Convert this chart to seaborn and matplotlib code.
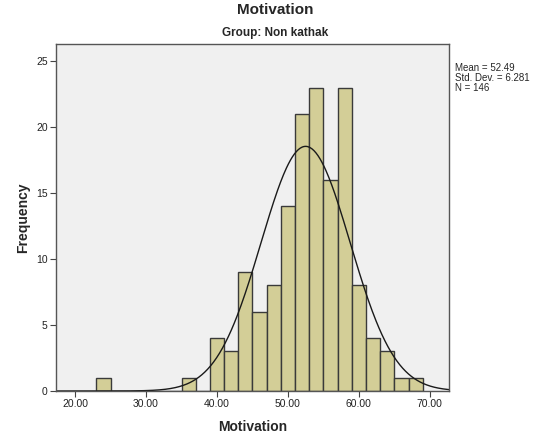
import numpy as np
import pandas as pd
import matplotlib
matplotlib.use("Agg")
import matplotlib.pyplot as plt
import seaborn as sns

# Data
bin_left = [23, 25, 27, 29, 31, 33, 35, 37, 39, 41, 43, 45, 47, 49, 51, 53, 55, 57, 59, 61, 63, 65, 67]
counts   = [1, 0, 0, 0, 0, 0, 1, 0, 4, 3, 9, 6, 8, 14, 21, 23, 16, 23, 8, 4, 3, 1, 1]
bin_width = 2
mean_val = 52.49
sd_val = 6.281
n_val = 146
x_ticks = [20, 30, 40, 50, 60, 70]
y_ticks = [0, 5, 10, 15, 20, 25]

sns.set_style("white")
plt.rcParams['font.family'] = ['Arial', 'Liberation Sans', 'DejaVu Sans']

df = pd.DataFrame({"center": np.array(bin_left) + bin_width / 2, "count": counts})
edges = list(bin_left) + [bin_left[-1] + bin_width]

fig = plt.figure(figsize=(5.5, 4.41), dpi=100)
ax = fig.add_axes([0.1018, 0.1134, 0.7145, 0.7866])
ax.set_facecolor("#F0F0F0")

sns.histplot(data=df, x="center", weights="count", bins=edges, ax=ax,
             color="#D3CE97", alpha=1, edgecolor="#3a3a3a", linewidth=1.0)

xs = np.linspace(17.3, 72.7, 400)
ys = n_val * bin_width * np.exp(-0.5 * ((xs - mean_val) / sd_val) ** 2) / (sd_val * np.sqrt(2 * np.pi))
sns.lineplot(x=xs, y=ys, ax=ax, color="#1a1a1a", linewidth=1.0)

ax.set_xlim(17.3, 72.7)
ax.set_ylim(0, 26.3)
ax.set_xticks(x_ticks)
ax.set_xticklabels([f"{t:.2f}" for t in x_ticks], fontsize=7.5, color="#222222")
ax.set_yticks(y_ticks)
ax.set_yticklabels([str(t) for t in y_ticks], fontsize=7.5, color="#222222")
ax.tick_params(axis="both", direction="out", length=4, width=0.8, color="#444444", pad=2,
               bottom=True, left=True)
for s in ax.spines.values():
    s.set_color("#555555")
    s.set_linewidth(1.0)

ax.set_xlabel("Motivation", fontsize=10, fontweight="bold", labelpad=8)
ax.set_ylabel("Frequency", fontsize=10, fontweight="bold", labelpad=4)

fig.text(0.5, 0.977, "Motivation", ha="center", va="center", fontsize=11, fontweight="bold")
fig.text(0.5, 0.925, "Group: Non kathak", ha="center", va="center", fontsize=8.5, fontweight="bold")

fig.text(0.827, 0.858, f"Mean = {mean_val}\nStd. Dev. = {sd_val}\nN = {n_val}",
         ha="left", va="top", fontsize=7, linespacing=1.0)

fig.savefig("out.png", dpi=100, facecolor="white")
